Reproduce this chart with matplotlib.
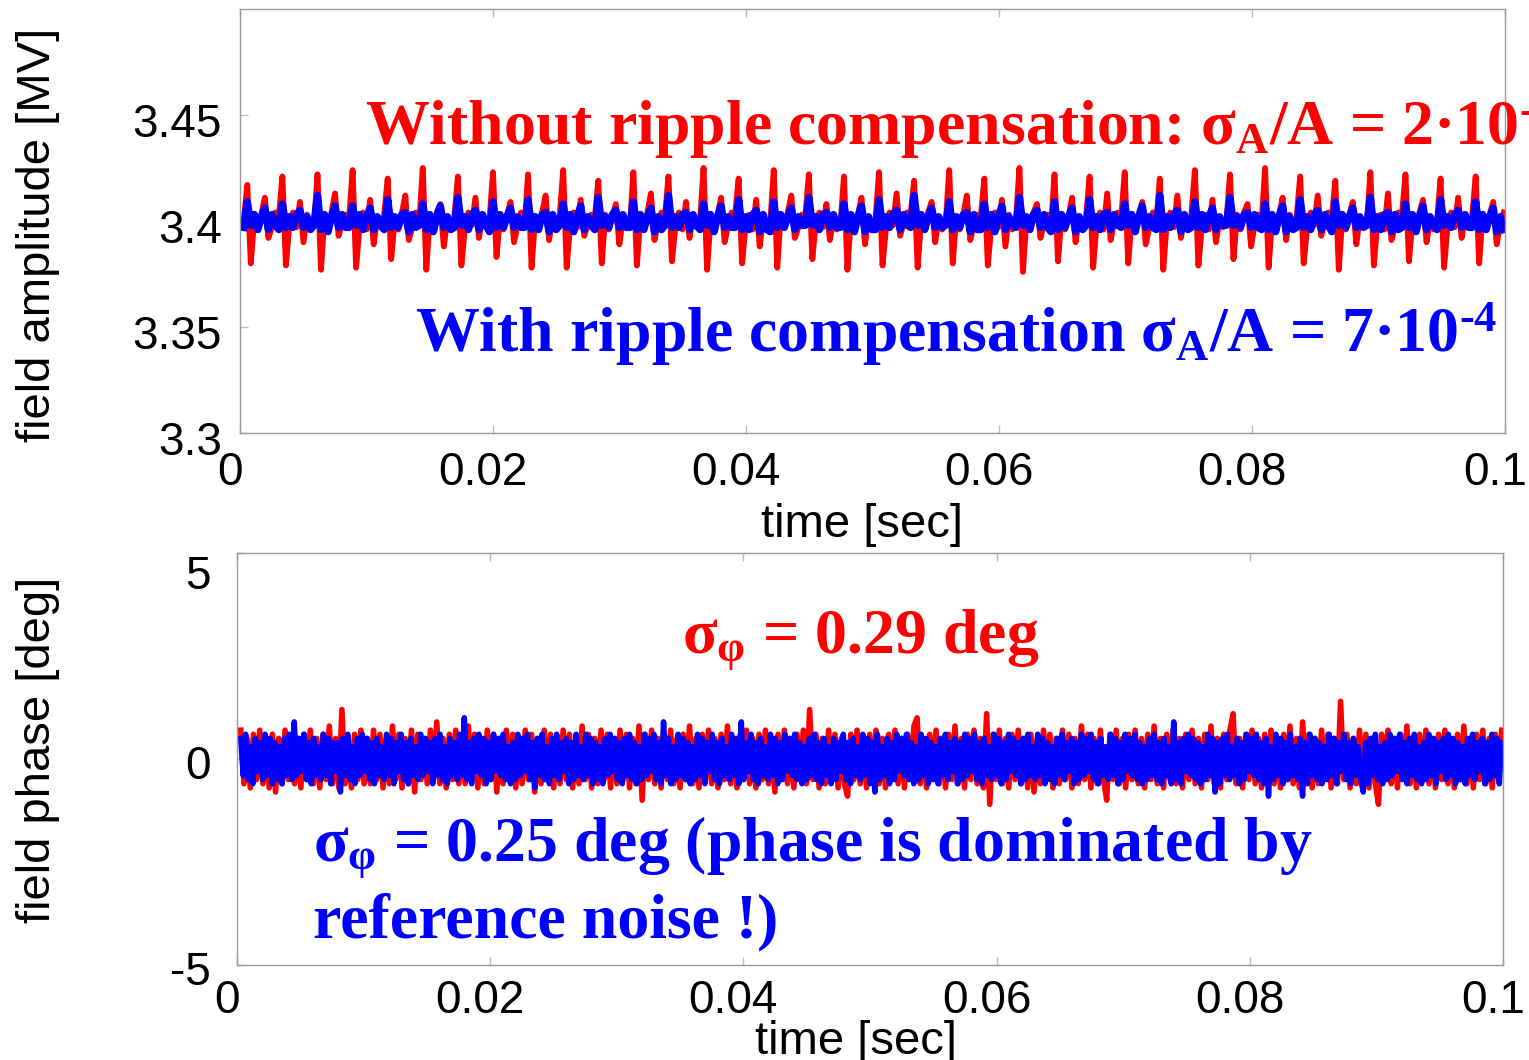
import numpy as np
import matplotlib
matplotlib.use('Agg')
import matplotlib.pyplot as plt
from matplotlib.transforms import ScaledTranslation

plt.rcParams['font.family'] = ['Liberation Sans', 'DejaVu Sans']
plt.rcParams['mathtext.fontset'] = 'custom'
plt.rcParams['mathtext.rm'] = 'Liberation Serif:bold'
plt.rcParams['mathtext.it'] = 'Liberation Serif:bold'
plt.rcParams['mathtext.bf'] = 'Liberation Serif:bold'

# ---- data -------------------------------------------------------------
A0 = 3.4  # MV, nominal field amplitude

# amplitude deviation in units of 1e-3 MV, without ripple compensation
# (one row = one ripple period)
amp_red_mV = [
    0, 17, -20, 2, -4, 3, 11, -8, -3, 4,
    2, 21, -21, -1, 4, -3, 9, -10, 3, -4,
    -2, 22, -23, 3, -3, 4, 13, -7, -1, 3,
    1, 24, -22, -2, 4, -4, 10, -11, 2, -3,
    3, 20, -18, 1, -4, 3, 12, -9, -3, 4,
    -1, 25, -23, 2, -3, 4, 8, -12, 1, -4,
    2, 21, -21, -3, 4, -2, 11, -8, 2, -3,
    0, 23, -17, 2, -4, 3, 9, -10, -2, 4,
    -2, 22, -22, 1, -3, 4, 12, -9, 3, -4,
    2, 24, -22, -1, 4, -3, 10, -7, -2, 3,
    1, 19, -20, 3, -4, 2, 8, -11, 1, -3,
    -3, 23, -21, 2, -3, 4, 13, -9, -1, 4,
    2, 21, -19, -2, 4, -4, 9, -8, 3, -3,
    0, 25, -23, 1, -4, 3, 11, -10, -2, 4,
    3, 20, -20, -1, 3, -4, 10, -12, 2, -3,
    -1, 24, -22, 3, -3, 4, 12, -8, -3, 3,
    2, 22, -18, 0, 4, -3, 8, -9, 1, -4,
    -2, 21, -23, 2, -4, 3, 11, -11, 2, -3,
    1, 23, -21, -3, 4, -2, 13, -7, -1, 4,
    3, 19, -22, 1, -3, 4, 9, -10, 2, -4,
    -1, 24, -20, 2, -4, 3, 12, -9, -2, 3,
    2, 20, -21, -2, 4, -3, 10, -12, 3, -4,
    0, 25, -24, 1, -3, 4, 8, -8, -1, 3,
    -3, 22, -19, 3, -4, 2, 11, -10, 2, -3,
    2, 21, -22, -1, 4, -4, 13, -9, 0, 4,
    1, 23, -20, 2, -3, 3, 9, -11, -3, 4,
    -2, 20, -23, 0, 4, -3, 12, -8, 2, -4,
    3, 24, -21, -2, 3, -4, 10, -10, 1, -3,
    0, 22, -18, 3, -4, 4, 8, -12, -2, 3,
    -1, 25, -22, 1, -3, 3, 11, -9, 3, -4,
    2, 21, -20, -3, 4, -2, 12, -7, -1, 4,
    1, 19, -23, 2, -4, 3, 9, -11, 2, -3,
    -2, 23, -21, 0, 3, -4, 13, -9, -3, 4,
    3, 22, -19, 1, -3, 4, 10, -10, 1, -4,
    0, 20, -22, -2, 4, -3, 11, -8, 2, -3,
    2, 21, -20, 3, -4, 3, 9, -11, -1, 4,
]

# amplitude deviation in units of 1e-3 MV, with ripple compensation
amp_blue_mV = [
    -3, 9, -2, 3, -4, 2, 6, -4, 3, -2,
    -4, 8, -3, 2, -3, 3, 5, -3, 2, -4,
    -2, 12, -4, 3, -5, 2, 7, -3, 3, -3,
    -3, 7, -2, 3, -4, 2, 6, -4, 2, -2,
    -4, 10, -3, 2, -3, 3, 4, -5, 3, -3,
    -2, 8, -4, 3, -5, 2, 7, -3, 2, -4,
    -3, 11, -2, 2, -4, 3, 5, -4, 3, -2,
    -5, 9, -3, 3, -3, 2, 6, -3, 2, -3,
    -3, 10, -4, 2, -4, 3, 4, -5, 3, -4,
    -2, 8, -3, 3, -5, 2, 7, -4, 2, -2,
    -4, 11, -2, 2, -3, 3, 5, -3, 3, -3,
    -3, 9, -4, 3, -4, 2, 6, -5, 2, -4,
    -2, 12, -3, 2, -3, 3, 4, -4, 3, -2,
    -4, 8, -2, 3, -5, 2, 7, -3, 2, -3,
    -3, 10, -4, 2, -4, 3, 5, -5, 3, -4,
    -5, 9, -3, 3, -3, 2, 6, -4, 2, -2,
    -2, 11, -2, 2, -4, 3, 4, -3, 3, -3,
    -3, 8, -4, 3, -5, 2, 7, -5, 2, -4,
    -4, 10, -3, 2, -3, 3, 5, -4, 3, -2,
    -3, 12, -2, 3, -4, 2, 6, -3, 2, -3,
    -2, 9, -4, 2, -3, 3, 4, -5, 3, -4,
    -4, 8, -3, 3, -5, 2, 7, -4, 2, -2,
    -3, 11, -2, 2, -4, 3, 5, -3, 3, -3,
    -5, 9, -4, 3, -3, 2, 6, -5, 2, -4,
    -2, 10, -3, 2, -4, 3, 4, -4, 3, -2,
    -3, 8, -2, 3, -5, 2, 7, -3, 2, -3,
    -4, 12, -4, 2, -3, 3, 5, -5, 3, -4,
    -3, 9, -3, 3, -4, 2, 6, -4, 2, -2,
    -2, 11, -2, 2, -3, 3, 4, -3, 3, -3,
    -4, 8, -4, 3, -5, 2, 7, -5, 2, -4,
    -3, 10, -3, 2, -4, 3, 5, -4, 3, -2,
    -5, 9, -2, 3, -3, 2, 6, -3, 2, -3,
    -2, 11, -4, 2, -4, 3, 4, -5, 3, -4,
    -3, 8, -3, 3, -5, 2, 7, -4, 2, -2,
    -4, 10, -2, 2, -3, 3, 5, -3, 3, -3,
    -3, 9, -4, 3, -4, 2, 6, -5, 2, -4,
]

# phase in units of 0.1 deg, without ripple compensation
phase_red = [
    7, -6, 5, -7, 6, -5, 7, -6, 5, -7, 6, -8, 5, -6, 7, -5, 6, -6, 5, -7,
    6, -5, 7, -6, 5, -7, 6, -5, 8, -6, 5, -7, 12, -6, 5, -7, 6, -5, 7, -6,
    5, -6, 7, -5, 6, -7, 5, -6, 8, -5, 6, -7, 5, -6, 7, -8, 6, -5, 5, -6,
    7, -5, 9, -6, 5, -7, 6, -5, 7, -6, 5, -6, 8, -5, 6, -7, 5, -6, 7, -5,
    6, -8, 5, -6, 7, -5, 6, -7, 5, -6, 7, -5, 6, -8, 5, -6, 7, -5, 6, -7,
    5, -6, 7, -5, 6, -7, 5, -6, 8, -5, 6, -7, 5, -6, 7, -5, 6, -7, 5, -6,
    7, -5, 6, -7, 5, -6, 8, -10, 6, -5, 7, -6, 5, -7, 6, -5, 7, -6, 5, -7,
    6, -5, 8, -6, 5, -7, 6, -5, 7, -6, 5, -7, 6, -5, 8, -6, 5, -7, 6, -5,
    7, -6, 5, -7, 6, -5, 7, -6, 5, -8, 6, -5, 7, -6, 5, -7, 6, -5, 7, -6,
    12, -5, 6, -7, 5, -6, 7, -5, 6, -7, 5, -6, -9, 6, -5, 7, -6, 5, -7, 6,
    -5, 7, -6, 5, -7, 6, -5, 7, -6, 5, -7, 6, -5, 8, 10, -6, 5, -7, 6, -5,
    7, -6, 5, -7, 6, -5, 8, -6, 5, -7, 6, -5, 7, -6, 5, -7, 11, -11, 6, -5,
    7, -6, 5, -7, 6, -5, 7, -6, 5, -7, 6, -8, 5, -6, 7, -5, 6, -7, 5, -6,
    7, -5, 6, -7, 5, -6, 8, -5, 6, -7, 5, -6, 7, -5, -10, 6, -5, 7, -6, 5,
    -7, 6, -5, 7, -6, 5, -7, 6, -5, 8, -6, 5, -7, 6, -5, 7, -6, 5, -7, 6,
    -5, 7, -6, 5, -7, 6, -5, 8, -6, 5, -7, 6, -5, 7, 11, -6, 5, -7, 6, -5,
    7, -6, 5, -7, 6, -5, 7, -6, 5, -7, 6, -5, 8, -6, 5, -7, 9, -5, 6, -7,
    5, -6, 7, -5, 6, -7, 5, -6, 14, -5, 6, -7, 5, -6, 7, -5, 6, -7, 5, -6,
    -11, 6, -5, 7, -6, 5, -7, 6, -5, 8, -6, 5, -7, 6, -5, 7, -6, 5, -7, 6,
    -5, 7, -6, 5, -7, 6, -5, 8, -6, 5, -7, 6, -5, 7, -6, 5, -7, 6, -5, 7,
]

# phase in units of 0.1 deg, with ripple compensation
phase_blue = [
    5, -4, 6, -5, 3, -6, 5, -3, 4, -5, 6, -4, 5, -6, 4, -5, 3, -6, 5, -4,
    6, -5, 9, -4, 5, -3, 6, -5, 4, -6, 5, -4, 3, -5, 6, -4, 5, -6, 4, -3,
    4, -8, 5, -4, 6, -5, 3, -6, 5, -4, 6, -3, 5, -5, 4, -6, 5, -4, 3, -5,
    6, -4, 5, -6, 4, -3, 6, -5, 4, -6, 5, -4, 3, -5, 6, -4, 5, -3, 4, -6,
    5, -4, 6, -5, 3, -6, 5, -4, 4, -5, 6, -4, 10, -5, 4, -6, 5, -3, 6, -4,
    5, -6, 4, -5, 6, -3, 5, -4, 6, -5, 3, -6, 4, -5, 6, -4, 5, -3, 6, -5,
    4, -7, 5, -4, 6, -5, 3, -6, 5, -4, 6, -5, 4, -3, 5, -6, 4, -5, 6, -4,
    3, -5, 6, -4, 5, -6, 4, -5, 3, -6, 5, -4, 6, -3, 5, -5, 4, -6, 5, -4,
    6, -5, 4, -6, 3, -5, 6, -4, 5, -3, 6, -5, 4, -6, 9, -4, 5, -6, 3, -5,
    6, -4, 5, -5, 4, -6, 3, -5, 6, -4, 5, -6, 4, -3, 6, -5, 4, -6, 5, -4,
    3, -5, 6, -4, 5, -6, 9, -5, 4, -3, 6, -5, 4, -6, 5, -4, 3, -5, 6, -4,
    5, -6, 4, -5, 6, -3, 5, -4, 6, -5, 4, -6, 3, -5, 5, -4, 6, -5, 4, -6,
    5, -4, 3, -6, 5, -5, 4, -3, 6, -5, 4, -6, 5, -4, 3, -5, 6, -4, 5, -6,
    4, -8, 6, -5, 3, -4, 5, -6, 4, -5, 6, -3, 5, -4, 6, -5, 4, -6, 3, -5,
    6, -4, 5, -6, 4, -5, 3, -6, 5, -4, 6, -5, 4, -3, 5, -6, 4, -5, 6, -4,
    5, -3, 6, -5, 4, -6, 5, -4, 3, -5, 6, -4, 5, -6, 4, -5, 6, -3, 5, -4,
    4, -6, 5, -5, 6, -4, 3, -5, 6, -4, 5, -6, 4, -5, 3, -6, 5, -4, 6, -5,
    4, -3, 5, -6, 4, -5, 6, -4, 5, -3, 6, -5, 4, -6, 5, -4, 3, -5, 6, -4,
    5, -6, 4, -5, 6, -3, 5, -4, 6, -5, 4, -6, 3, -5, 5, -4, 6, -5, 4, -6,
    5, -4, 3, -6, 9, -5, 4, -6, 5, -3, 6, -4, 5, -5, 4, -6, 3, -5, 6, -4,
    5, -8, 4, -6, 5, -4, 6, -5, 3, -4, 5, -6, 4, -5, 6, -3, 5, -4, 6, -5,
    4, -6, 5, -9, 3, -5, 6, -4, 5, -6, 4, -5, 6, -4, 3, -5, 5, -9, 4, -6,
    6, -4, 5, -5, 4, -6, 3, -5, 6, -4, 5, -6, 4, -3, 6, -5, 4, -6, 5, -4,
    3, -5, -8, 4, -6, 5, -4, 6, -5, 3, -6, 4, -5, 6, -4, 5, -3, 6, -5, 4,
    -6, 5, -4, 6, -5, 3, -6, 4, -5, 6, -4, 5, -6, 4, -3, 5, -5, 6, -4, 5,
    -6, 4, -5, 3, -6, 5, -4, 6, -5, 4, -3, 5, -6, 4, -5, 6, -4, 5, -6, 4,
]

T_START, T_END = 0.0003, 0.0999
x_ticks = [0, 0.02, 0.04, 0.06, 0.08, 0.1]
x_ticklabels = ['0', '0.02', '0.04', '0.06', '0.08', '0.1']
amp_ticks = [3.3, 3.35, 3.4, 3.45]
amp_ticklabels = ['3.3', '3.35', '3.4', '3.45']
phase_ticks = [-5, 0, 5]
phase_ticklabels = ['-5', '0', '5']

# ---- figure -----------------------------------------------------------
W, H, DPI = 1529, 1060, 100
fig = plt.figure(figsize=(W / DPI, H / DPI), dpi=DPI)


def px_axes(left, top, right, bottom):
    return fig.add_axes([left / W, 1 - bottom / H, (right - left) / W, (bottom - top) / H])


ax1 = px_axes(240, 9, 1505, 433)
ax2 = px_axes(237, 553, 1503, 965)

red_amp = A0 + np.array(amp_red_mV) * 1e-3
blue_amp = A0 + np.array(amp_blue_mV) * 1e-3
ax1.plot(np.linspace(T_START, T_END, len(red_amp)), red_amp, color='#ff0000', lw=4.2)
ax1.plot(np.linspace(T_START, T_END, len(blue_amp)), blue_amp, color='#0000ff', lw=5.4)

red_ph = np.array(phase_red) * 0.1
blue_ph = np.array(phase_blue) * 0.1
ax2.plot(np.linspace(T_START, T_END, len(red_ph)), red_ph, color='#ff0000', lw=4.0)
ax2.plot(np.linspace(T_START, T_END, len(blue_ph)), blue_ph, color='#0000ff', lw=4.0)

ax1.set_xlim(0, 0.1)
ax1.set_ylim(3.3, 3.5)
ax2.set_xlim(0, 0.1)
ax2.set_ylim(-5, 5)

TICK_FS = 33
LABEL_FS = 34
for ax in (ax1, ax2):
    ax.set_xticks(x_ticks)
    ax.set_xticklabels(x_ticklabels, fontsize=TICK_FS)
    for sp in ax.spines.values():
        sp.set_color('#999999')
        sp.set_linewidth(1.0)
    ax.tick_params(direction='in', length=6, width=1, color='#bbbbbb',
                   top=True, bottom=True, left=True, right=False)

ax1.set_yticks(amp_ticks)
ax1.set_yticklabels(amp_ticklabels, fontsize=TICK_FS)
ax2.set_yticks(phase_ticks)
ax2.set_yticklabels(phase_ticklabels, fontsize=TICK_FS)

ax1.tick_params(axis='x', pad=13)
ax1.tick_params(axis='y', pad=13)
ax2.tick_params(axis='x', pad=10)
ax2.tick_params(axis='y', pad=19)

# matlab-like shifted tick labels
for ax in (ax1, ax2):
    for lab in ax.get_xticklabels():
        lab.set_transform(lab.get_transform() + ScaledTranslation(-0.10, 0, fig.dpi_scale_trans))
for lab in ax1.get_yticklabels():
    lab.set_transform(lab.get_transform() + ScaledTranslation(0, -0.05, fig.dpi_scale_trans))
for lab in ax2.get_yticklabels():
    dy = -0.19 if lab.get_text() == '5' else -0.03
    lab.set_transform(lab.get_transform() + ScaledTranslation(0, dy, fig.dpi_scale_trans))

ax1.set_ylabel('field amplitude [MV]', fontsize=LABEL_FS)
ax1.yaxis.set_label_coords(-0.142, 0.467)
ax1.set_xlabel('time [sec]', fontsize=LABEL_FS)
ax1.xaxis.set_label_coords(0.4917, -0.165)
ax2.set_ylabel('field phase [deg]', fontsize=LABEL_FS)
ax2.yaxis.set_label_coords(-0.14, 0.522)
ax2.set_xlabel('time [sec]', fontsize=LABEL_FS)
ax2.xaxis.set_label_coords(0.489, -0.1335)

# annotations
SERIF = dict(family='Liberation Serif', weight='bold', fontsize=46, va='baseline')


def ftext(x, y, s, color):
    fig.text(x / W, 1 - y / H, s, color=color, **SERIF)


ftext(365, 145, r'Without ripple compensation: $\sigma_A$/A = 2·10$^{\text{-}3}$', '#ff0000')
ftext(415, 352, r'With ripple compensation $\sigma_A$/A = 7·10$^{\text{-}4}$', '#0000ff')
ftext(682, 652, r'$\sigma_\varphi$ = 0.29 deg', '#ff0000')
ftext(313, 860, r'$\sigma_\varphi$ = 0.25 deg (phase is dominated by', '#0000ff')
ftext(313, 937, 'reference noise !)', '#0000ff')

fig.savefig('out.png', dpi=DPI)
